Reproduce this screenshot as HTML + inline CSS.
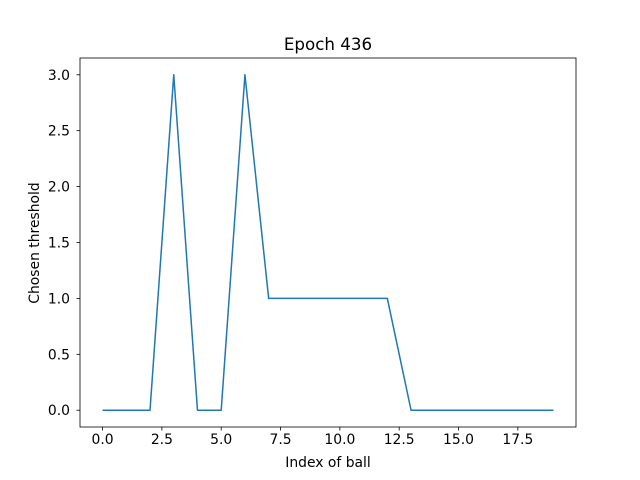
<!DOCTYPE html>
<html><head><meta charset="utf-8"><style>body{margin:0;background:#fff}svg{display:block;font-family:"DejaVu Sans","Liberation Sans",sans-serif}</style></head>
<body>
<svg id="chart" width="640" height="480">
<rect width="640" height="480" fill="#fff"/>
<text x="328" y="50" text-anchor="middle" font-size="16.7">Epoch 436</text>
<g id="axes"></g>
<text x="328" y="467" text-anchor="middle" font-size="13.9">Index of ball</text>
<text transform="translate(39,243) rotate(-90)" text-anchor="middle" font-size="13.9">Chosen threshold</text>
</svg>
<script>
const xValues=[0,1,2,3,4,5,6,7,8,9,10,11,12,13,14,15,16,17,18,19];
const yValues=[0,0,0,3,0,0,3,1,1,1,1,1,1,0,0,0,0,0,0,0];
const xTicks=[0,2.5,5,7.5,10,12.5,15,17.5];
const xTickLabels=["0.0","2.5","5.0","7.5","10.0","12.5","15.0","17.5"];
const yTicks=[0,0.5,1,1.5,2,2.5,3];
const yTickLabels=["0.0","0.5","1.0","1.5","2.0","2.5","3.0"];
const L=80,R=576,T=58,B=427;
const xmin=-0.95,xmax=19.95,ymin=-0.15,ymax=3.15;
const sx=v=>L+(v-xmin)/(xmax-xmin)*(R-L);
const sy=v=>B-(v-ymin)/(ymax-ymin)*(B-T);
const NS="http://www.w3.org/2000/svg";
const g=document.getElementById('axes');
function mk(t,a){const e=document.createElementNS(NS,t);for(const k in a)e.setAttribute(k,a[k]);g.appendChild(e);return e;}
const pts=xValues.map((x,i)=>sx(x)+','+sy(yValues[i])).join(' ');
const line=mk('polyline',{points:pts,fill:'none',stroke:'#1f77b4','stroke-width':1.5,'stroke-linejoin':'round'});


xTicks.forEach((v,i)=>{
 mk('line',{x1:sx(v),x2:sx(v),y1:B,y2:B+3.5,stroke:'#000','stroke-width':0.8});
 const t=mk('text',{x:sx(v),y:B+17,'text-anchor':'middle','font-size':13.9});
 t.textContent=xTickLabels[i];
 
 
});
yTicks.forEach((v,i)=>{
 mk('line',{x1:L-3.5,x2:L,y1:sy(v),y2:sy(v),stroke:'#000','stroke-width':0.8});
 const t=mk('text',{x:L-10,y:sy(v)+5,'text-anchor':'end','font-size':13.9});
 t.textContent=yTickLabels[i];
 
 
});
const frame=mk('rect',{x:L,y:T,width:R-L,height:B-T,fill:'none',stroke:'#000','stroke-width':0.8});


</script>
</body></html>
